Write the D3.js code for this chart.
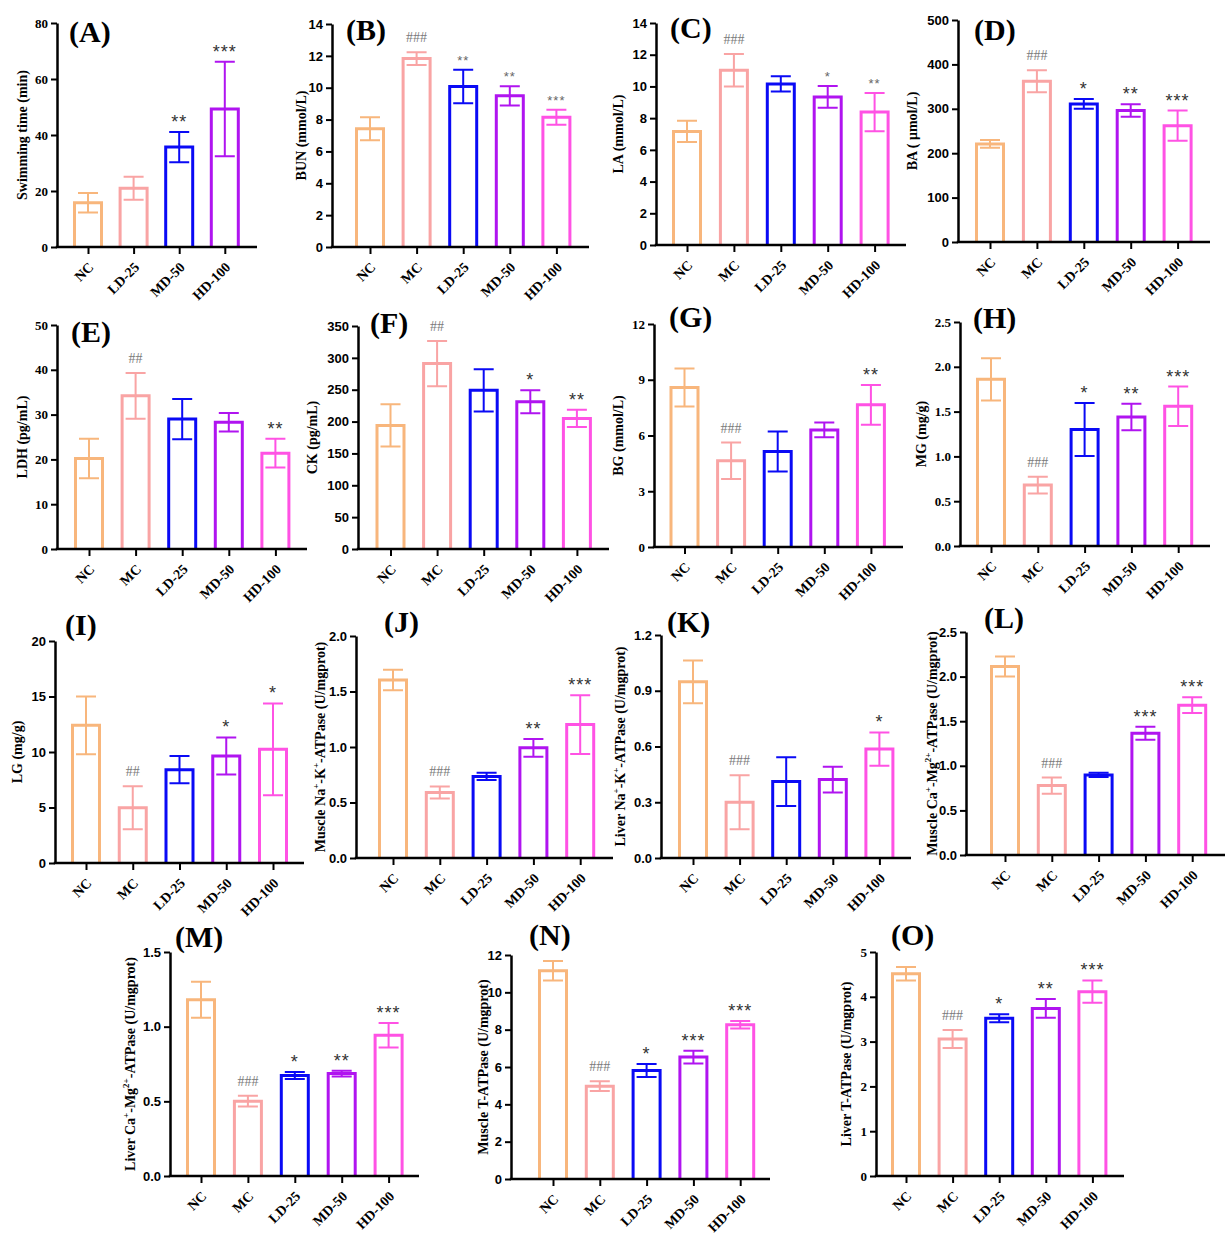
<!DOCTYPE html>
<html lang="en">
<head>
  <meta charset="UTF-8">
  <title>Anti-fatigue indices</title>
  <script src="https://d3js.org/d3.v7.min.js"></script>
  <style>
    body { margin: 0; background: #fff; }
    .bar { fill: none; stroke-width: 3; }
    .err { fill: none; stroke-width: 2; }
    .panel-label { font-family: "Liberation Serif", "Times New Roman", serif; font-size: 30px; font-weight: bold; }
    .y-title { font-family: "Liberation Serif", "Times New Roman", serif; font-size: 14px; font-weight: bold; }
  </style>
</head>
<body>
  <div id="chart"></div>
  <script>
    const serif = '"Liberation Serif","Times New Roman",serif';
    const sans = '"Liberation Sans",Arial,sans-serif';

    // groups and bar colours (colour goes by position)
    const groups = ["NC", "MC", "LD-25", "MD-50", "HD-100"];
    const groupsA = ["NC", "LD-25", "MD-50", "HD-100"];
    const colors = ["#F8B67C", "#F9A4A4", "#0A0AF5", "#B014F0", "#FF52E4"];

    // values: mean, error (SD) and significance marks
    const swimMean = [15.8, 21.0, 35.7, 49.3];
    const swimErr = [3.5, 4.1, 5.4, 16.9];
    const swimSig = ["", "", "**", "***"];

    const bunMean = [7.42, 11.83, 10.07, 9.49, 8.15];
    const bunErr = [0.72, 0.4, 1.05, 0.6, 0.47];
    const bunSig = ["", "###", "**", "**", "***"];

    const laMean = [7.16, 11.02, 10.16, 9.34, 8.38];
    const laErr = [0.67, 1.02, 0.48, 0.69, 1.2];
    const laSig = ["", "###", "", "*", "**"];

    const baMean = [221, 362, 311, 296, 262];
    const baErr = [9, 25, 11, 14, 34];
    const baSig = ["", "###", "*", "**", "***"];

    const ldhMean = [20.2, 34.2, 29.0, 28.3, 21.4];
    const ldhErr = [4.4, 5.1, 4.5, 2.05, 3.2];
    const ldhSig = ["", "##", "", "", "**"];

    const ckMean = [194, 291, 249, 231, 205];
    const ckErr = [33, 35.5, 33, 18, 13.5];
    const ckSig = ["", "##", "", "*", "**"];

    const bgMean = [8.58, 4.64, 5.14, 6.3, 7.65];
    const bgErr = [1.02, 0.98, 1.08, 0.4, 1.07];
    const bgSig = ["", "###", "", "", "**"];

    const mgMean = [1.86, 0.68, 1.30, 1.44, 1.56];
    const mgErr = [0.235, 0.093, 0.296, 0.149, 0.22];
    const mgSig = ["", "###", "*", "**", "***"];

    const lgMean = [12.4, 4.98, 8.41, 9.64, 10.24];
    const lgErr = [2.6, 1.94, 1.22, 1.67, 4.13];
    const lgSig = ["", "##", "", "*", "*"];

    const mNaKMean = [1.604, 0.591, 0.735, 0.993, 1.202];
    const mNaKErr = [0.092, 0.054, 0.032, 0.08, 0.264];
    const mNaKSig = ["", "###", "", "**", "***"];

    const lNaKMean = [0.948, 0.30, 0.411, 0.422, 0.586];
    const lNaKErr = [0.115, 0.145, 0.131, 0.069, 0.09];
    const lNaKSig = ["", "###", "", "", "*"];

    const mCaMgMean = [2.114, 0.778, 0.898, 1.366, 1.68];
    const mCaMgErr = [0.112, 0.09, 0.023, 0.073, 0.088];
    const mCaMgSig = ["", "###", "", "***", "***"];

    const lCaMgMean = [1.18, 0.501, 0.673, 0.686, 0.943];
    const lCaMgErr = [0.12, 0.036, 0.023, 0.019, 0.082];
    const lCaMgSig = ["", "###", "*", "**", "***"];

    const mTMean = [11.16, 4.97, 5.81, 6.53, 8.26];
    const mTErr = [0.52, 0.26, 0.35, 0.34, 0.2];
    const mTSig = ["", "###", "*", "***", "***"];

    const lTMean = [4.516, 3.058, 3.52, 3.74, 4.115];
    const lTErr = [0.15, 0.2, 0.09, 0.21, 0.25];
    const lTSig = ["", "###", "*", "**", "***"];

    // axis titles; [text, "sup"] parts become superscripts
    const naK = (organ) => [[organ + " Na"], ["+", "sup"], ["-K"], ["+", "sup"], ["-ATPase (U/mgprot)"]];
    const caMg = (organ) => [[organ + " Ca"], ["+", "sup"], ["-Mg"], ["2+", "sup"], ["-ATPase (U/mgprot)"]];

    const panels = [
      { id: "A", groups: groupsA, mean: swimMean, err: swimErr, sig: swimSig, max: 80, step: 20, fmt: "d", serifTicks: true, title: [["Swimming time (min)"]] },
      { id: "B", groups, mean: bunMean, err: bunErr, sig: bunSig, max: 14, step: 2, fmt: "d", smallStars: true, title: [["BUN (mmol/L)"]] },
      { id: "C", groups, mean: laMean, err: laErr, sig: laSig, max: 14, step: 2, fmt: "d", smallStars: true, title: [["LA (mmol/L)"]] },
      { id: "D", groups, mean: baMean, err: baErr, sig: baSig, max: 500, step: 100, fmt: "d", title: [["BA ( \u03bcmol/L)"]] },
      { id: "E", groups, mean: ldhMean, err: ldhErr, sig: ldhSig, max: 50, step: 10, fmt: "d", serifTicks: true, title: [["LDH (pg/mL)"]] },
      { id: "F", groups, mean: ckMean, err: ckErr, sig: ckSig, max: 350, step: 50, fmt: "d", title: [["CK (pg/mL)"]] },
      { id: "G", groups, mean: bgMean, err: bgErr, sig: bgSig, max: 12, step: 3, fmt: "d", serifTicks: true, title: [["BG (mmol/L)"]] },
      { id: "H", groups, mean: mgMean, err: mgErr, sig: mgSig, max: 2.5, step: 0.5, fmt: ".1f", serifTicks: true, title: [["MG (mg/g)"]] },
      { id: "I", groups, mean: lgMean, err: lgErr, sig: lgSig, max: 20, step: 5, fmt: "d", title: [["LG (mg/g)"]] },
      { id: "J", groups, mean: mNaKMean, err: mNaKErr, sig: mNaKSig, max: 2, step: 0.5, fmt: ".1f", title: naK("Muscle") },
      { id: "K", groups, mean: lNaKMean, err: lNaKErr, sig: lNaKSig, max: 1.2, step: 0.3, fmt: ".1f", title: naK("Liver") },
      { id: "L", groups, mean: mCaMgMean, err: mCaMgErr, sig: mCaMgSig, max: 2.5, step: 0.5, fmt: ".1f", title: caMg("Muscle") },
      { id: "M", groups, mean: lCaMgMean, err: lCaMgErr, sig: lCaMgSig, max: 1.5, step: 0.5, fmt: ".1f", title: caMg("Liver") },
      { id: "N", groups, mean: mTMean, err: mTErr, sig: mTSig, max: 12, step: 2, fmt: "d", title: [["Muscle T-ATPase (U/mgprot)"]] },
      { id: "O", groups, mean: lTMean, err: lTErr, sig: lTSig, max: 5, step: 1, fmt: "d", serifTicks: true, title: [["Liver T-ATPase (U/mgprot)"]] }
    ];

    // panel placement in page pixels
    // x0: y axis, x1: end of x axis, c0/step: bar centres, yTop/y0: top tick and zero
    // lx/ly: panel letter, tx: distance of y title from axis
    const layout = {
      A: { x0: 57, x1: 257, c0: 88, step: 45.6, yTop: 23, y0: 247, lx: 12, ly: 42, tx: 35 },
      B: { x0: 332, x1: 589, c0: 370, step: 46.6, yTop: 24, y0: 247, lx: 14, ly: 40, tx: 31 },
      C: { x0: 656, x1: 906, c0: 687, step: 46.9, yTop: 23, y0: 245, lx: 14, ly: 38, tx: 38 },
      D: { x0: 958, x1: 1210, c0: 990, step: 46.9, yTop: 20, y0: 242, lx: 16, ly: 40, tx: 46 },
      E: { x0: 57, x1: 307, c0: 89, step: 46.6, yTop: 325, y0: 549, lx: 14, ly: 342, tx: 35 },
      F: { x0: 358, x1: 609, c0: 390.5, step: 46.6, yTop: 326, y0: 549, lx: 12, ly: 333, tx: 46 },
      G: { x0: 654, x1: 903, c0: 684.5, step: 46.6, yTop: 324, y0: 547, lx: 15, ly: 327, tx: 36 },
      H: { x0: 960, x1: 1210, c0: 991, step: 46.8, yTop: 322, y0: 546, lx: 13, ly: 328, tx: 39 },
      I: { x0: 55, x1: 304, c0: 86, step: 46.75, yTop: 641, y0: 863, lx: 10, ly: 635, tx: 38 },
      J: { x0: 356, x1: 613, c0: 393, step: 46.8, yTop: 636, y0: 858, lx: 28, ly: 632, tx: 36 },
      K: { x0: 661, x1: 911, c0: 693, step: 46.6, yTop: 635, y0: 858, lx: 6, ly: 632, tx: 41 },
      L: { x0: 966, x1: 1225, c0: 1005, step: 46.8, yTop: 632, y0: 855, lx: 18, ly: 628, tx: 34 },
      M: { x0: 170, x1: 419, c0: 201, step: 46.9, yTop: 952, y0: 1176, lx: 5, ly: 947, tx: 40 },
      N: { x0: 511, x1: 770, c0: 553, step: 46.8, yTop: 955, y0: 1179, lx: 18, ly: 945, tx: 28 },
      O: { x0: 876, x1: 1124, c0: 906, step: 46.6, yTop: 952, y0: 1176, lx: 15, ly: 945, tx: 30 }
    };

    const barW = 27, cap = 10;

    const svg = d3.select("#chart")
      .append("svg")
      .attr("width", 1231)
      .attr("height", 1247)
      .style("background", "#fff");

    panels.forEach(p => {
      const L = layout[p.id];
      const g = svg.append("g").attr("class", "panel");

      const y = d3.scaleLinear().domain([0, p.max]).range([L.y0, L.yTop]);
      const x = d3.scalePoint()
        .domain(p.groups)
        .range([L.c0, L.c0 + L.step * (p.groups.length - 1)]);

      const rows = p.groups.map((k, i) => ({ k, i, m: p.mean[i], e: p.err[i], s: p.sig[i] }));

      // open bars (no bottom edge, the axis closes them)
      g.selectAll(".bar")
        .data(rows)
        .join("path")
        .attr("class", "bar")
        .attr("stroke", d => colors[d.i])
        .attr("d", d => {
          const c = x(d.k), t = y(d.m);
          return `M${c - barW / 2},${L.y0}V${t}H${c + barW / 2}V${L.y0}`;
        });

      // error bars
      g.selectAll(".err")
        .data(rows)
        .join("path")
        .attr("class", "err")
        .attr("stroke", d => colors[d.i])
        .attr("d", d => {
          const c = x(d.k), t = y(d.m + d.e), b = y(d.m - d.e);
          return `M${c},${t}V${b}M${c - cap},${t}H${c + cap}M${c - cap},${b}H${c + cap}`;
        });

      // y axis
      const ya = g.append("g")
        .attr("transform", `translate(${L.x0},0)`)
        .call(d3.axisLeft(y)
          .tickValues(d3.range(0, p.max + p.step / 2, p.step))
          .tickFormat(d3.format(p.fmt))
          .tickSize(6)
          .tickSizeOuter(0)
          .tickPadding(3));
      ya.select(".domain").attr("stroke-width", 2.5);
      ya.selectAll(".tick line").attr("stroke-width", 2);
      ya.selectAll(".tick text")
        .attr("font-family", p.serifTicks ? serif : sans)
        .attr("font-size", 13)
        .attr("font-weight", "bold")
        .attr("fill", "#000");

      // x axis
      const xa = g.append("g")
        .attr("transform", `translate(0,${L.y0})`)
        .call(d3.axisBottom(x).tickSize(7).tickSizeOuter(0));
      xa.select(".domain").remove();
      xa.selectAll(".tick line").attr("stroke-width", 2);
      xa.selectAll(".tick text")
        .attr("font-family", serif)
        .attr("font-size", 14)
        .attr("font-weight", "bold")
        .attr("fill", "#000")
        .attr("text-anchor", "end")
        .attr("y", 0)
        .attr("dy", 0)
        .attr("transform", "translate(6,21) rotate(-45)");
      g.append("line")
        .attr("x1", L.x0 - 1.25)
        .attr("x2", L.x1)
        .attr("y1", L.y0)
        .attr("y2", L.y0)
        .attr("stroke", "#000")
        .attr("stroke-width", 2.5);

      // y title
      const t = g.append("text")
        .attr("class", "y-title")
        .attr("text-anchor", "middle")
        .attr("transform", `translate(${L.x0 - L.tx + 5},${(L.y0 + L.yTop) / 2}) rotate(-90)`);
      let up = false;
      p.title.forEach(([txt, kind]) => {
        const sup = kind === "sup";
        const ts = t.append("tspan").text(txt);
        if (sup) { ts.attr("font-size", 9).attr("dy", -6); up = true; }
        else if (up) { ts.attr("dy", 6); up = false; }
      });

      // panel letter
      g.append("text")
        .attr("class", "panel-label")
        .attr("x", L.x0 + L.lx)
        .attr("y", L.ly)
        .text(`(${p.id})`);

      // significance marks
      g.selectAll(".sig")
        .data(rows.filter(d => d.s))
        .join("text")
        .attr("class", "sig")
        .attr("text-anchor", "middle")
        .attr("x", d => x(d.k))
        .each(function (d) {
          const s = d3.select(this).text(d.s);
          const top = y(d.m + d.e);
          if (d.s[0] === "#") {
            s.attr("y", top - 10).attr("font-family", serif).attr("font-size", 14).attr("fill", "#7a7a7a");
          } else if (p.smallStars) {
            s.attr("y", top - 5).attr("font-family", sans).attr("font-size", 13).attr("fill", "#666")
              .attr("letter-spacing", 1);
          } else {
            s.attr("y", top - 4).attr("font-family", sans).attr("font-size", 18).attr("fill", "#333")
              .attr("letter-spacing", 1);
          }
        });
    });
  </script>
</body>
</html>
